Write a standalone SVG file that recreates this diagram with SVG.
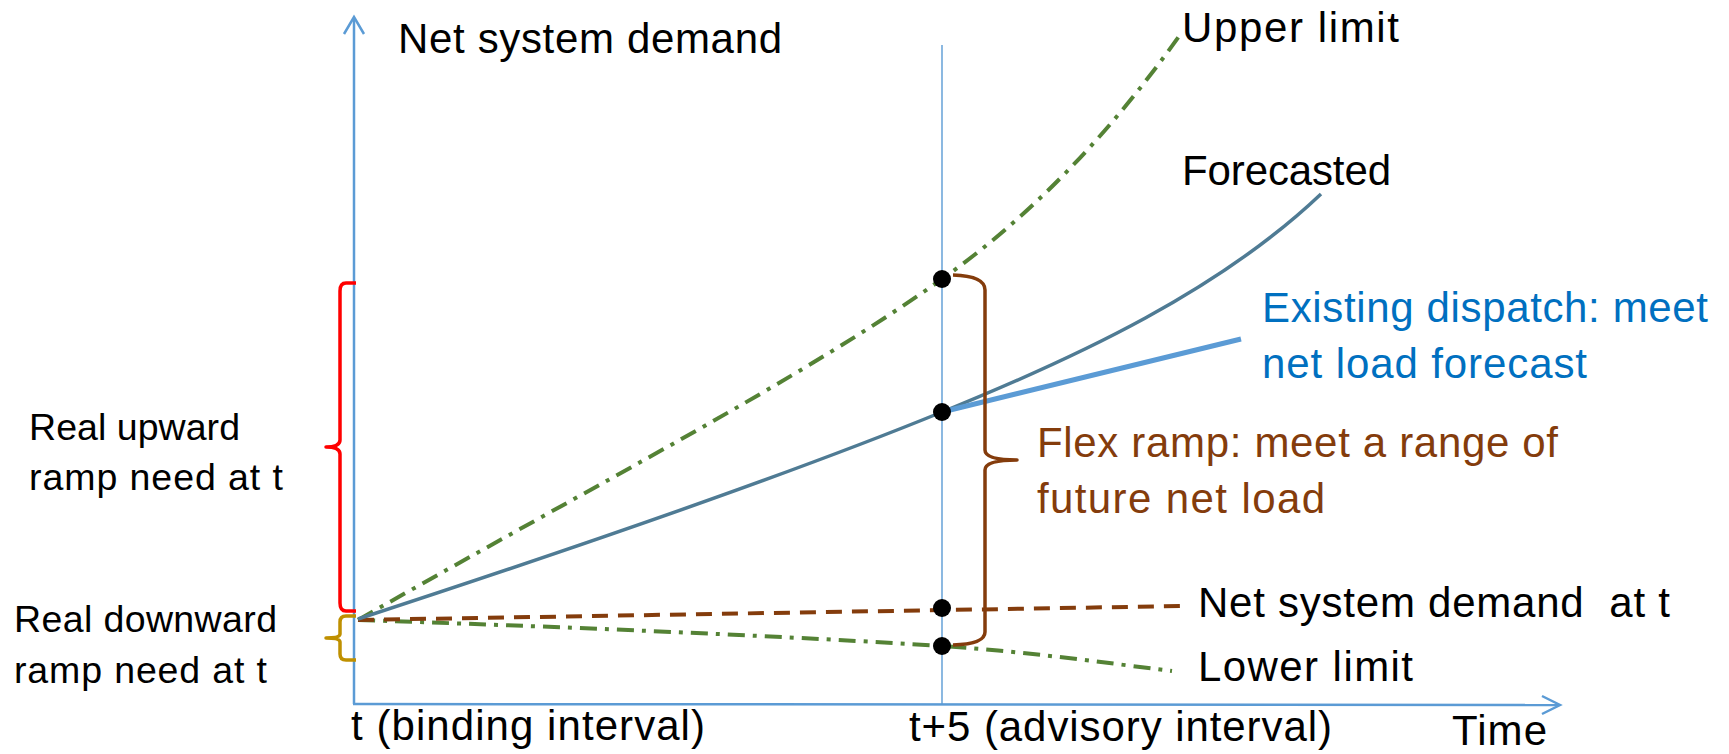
<svg xmlns="http://www.w3.org/2000/svg" width="1729" height="754" viewBox="0 0 1729 754">
<style>
text{font-family:"Liberation Sans",Arial,sans-serif;font-size:42px;fill:#000;white-space:pre}
.sm{font-size:37.5px}
.blue{fill:#0070C0}
.brown{fill:#843C0C}
.axis{stroke:#5B9BD5;stroke-width:2.5;fill:none}
.chev{stroke:#5B9BD5;stroke-width:2.5;fill:none;stroke-linejoin:miter}
.lim{stroke:#548235;stroke-width:4;fill:none;stroke-dasharray:17 8 4 8}
.nsd{stroke:#843C0C;stroke-width:4;fill:none;stroke-dasharray:16 10}
.fc{stroke:#4F7B94;stroke-width:3.5;fill:none}
.disp{stroke:#5B9BD5;stroke-width:5;fill:none;stroke-linecap:butt}
.brace{fill:none;stroke-width:3.5;stroke-linejoin:round}
.dot{fill:#000}
</style>
<rect width="1729" height="754" fill="#fff"/>
<g id="axes">
<line class="axis" x1="354" y1="704" x2="354" y2="18"/>
<polyline class="chev" points="344,34 354,17 364,34"/>
<line class="axis" x1="353" y1="704" x2="1558" y2="705"/>
<polyline class="chev" points="1542,696 1560,705 1542,714"/>
<line x1="942" y1="45" x2="942" y2="704" stroke="#5B9BD5" stroke-width="1.4"/>
</g>
<g id="connectors">
<path id="upper-limit" class="lim" d="M358,620 C600,482 800,380 942,279 C1040,210 1120,120 1182,32"/>
<path id="lower-limit" class="lim" d="M358,620 C600,628 800,637 942,646 C1020,651 1100,662 1172,671"/>
<path id="net-demand-t" class="nsd" d="M358,620 L1182,606"/>
<path id="forecast" class="fc" d="M358,619 C600,540 800,470 942,412 C1080,356 1220,290 1321,194"/>
<path id="dispatch" class="disp" d="M942,412 L1241,339"/>
</g>
<g id="braces">
<path id="up-brace" class="brace" stroke="#FF0000" d="M356,283 L346,283 Q340,283 340,291 L340,440 Q340,447 326,447 Q340,447 340,454 L340,603 Q340,611 346,611 L356,611"/>
<path id="down-brace" class="brace" stroke="#BF9000" d="M356,616 L346,616 Q340,616 340,622 L340,634 Q340,638 326,638 Q340,638 340,642 L340,654 Q340,660 346,660 L356,660"/>
<path id="flex-brace" class="brace" stroke="#843C0C" stroke-width="4.5" d="M953,275 Q985,276 985,290 L985,450 Q985,460 1017,460 Q985,460 985,470 L985,632 Q985,644 953,645"/>
</g>
<g id="points">
<circle class="dot" cx="942" cy="279" r="9"/>
<circle class="dot" cx="942" cy="412" r="9"/>
<circle class="dot" cx="942" cy="608" r="9"/>
<circle class="dot" cx="942" cy="646" r="9"/>
</g>
<g id="labels">
<text id="t-ylabel" x="398" y="53" textLength="384">Net system demand</text>
<text id="t-upper" x="1182" y="42" textLength="217">Upper limit</text>
<text id="t-forecast" x="1182" y="185" textLength="209">Forecasted</text>
<text id="t-disp1" class="blue" x="1262" y="322" textLength="446">Existing dispatch: meet</text>
<text id="t-disp2" class="blue" x="1262" y="378" textLength="325">net load forecast</text>
<text id="t-flex1" class="brown" x="1037" y="457" textLength="521">Flex ramp: meet a range of</text>
<text id="t-flex2" class="brown" x="1037" y="513" textLength="288">future net load</text>
<text id="t-nsd" x="1198" y="617" textLength="472" xml:space="preserve">Net system demand  at t</text>
<text id="t-lower" x="1198" y="681" textLength="215">Lower limit</text>
<text id="t-time" x="1452" y="745" textLength="95">Time</text>
<text id="t-bind" x="351" y="740" textLength="354">t (binding interval)</text>
<text id="t-adv" x="909" y="741" textLength="423">t+5 (advisory interval)</text>
<text id="t-up1" class="sm" x="29" y="440" textLength="211">Real upward</text>
<text id="t-up2" class="sm" x="29" y="490" textLength="254">ramp need at t</text>
<text id="t-dn1" class="sm" x="14" y="632" textLength="263">Real downward</text>
<text id="t-dn2" class="sm" x="14" y="683" textLength="253">ramp need at t</text>
</g>
</svg>
